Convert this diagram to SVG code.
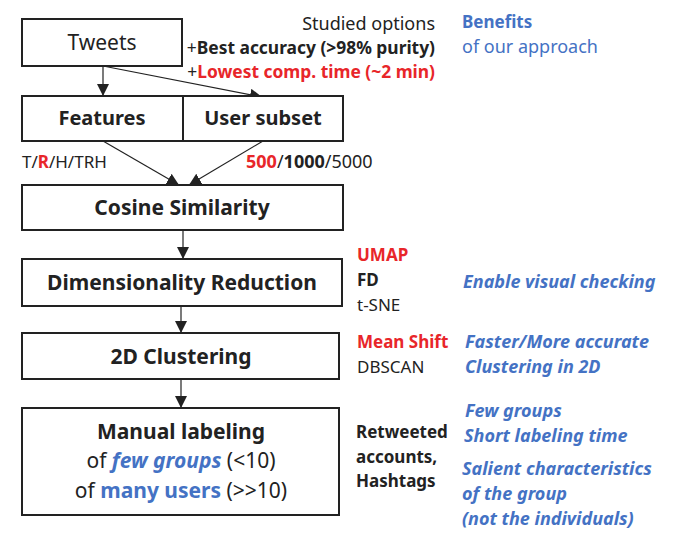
<svg xmlns="http://www.w3.org/2000/svg" width="676" height="546" viewBox="0 0 676 546">
<defs>
<marker id="ah" viewBox="0 0 12 12" refX="12" refY="6" markerWidth="12" markerHeight="12" markerUnits="userSpaceOnUse" orient="auto">
<path d="M0,0 L12,6 L0,12 z" fill="#222"/>
</marker>
<style>
.box{fill:#fff;stroke:#222;stroke-width:2}
.t{font-family:"Noto Sans","Open Sans",sans-serif;fill:#222}
.b{font-weight:bold}
.i{font-style:italic}
.red{fill:#e8262a}
.blue{fill:#4472c4}
.lbl{font-size:21px}
.side{font-size:17px}
.ben{font-size:18px}
.conn{stroke:#222;stroke-width:1.2;fill:none;marker-end:url(#ah)}
</style>
</defs>
<rect width="676" height="546" fill="#fff"/>

<g id="connectors">
<line class="conn" x1="103" y1="66" x2="103" y2="96"/>
<line class="conn" x1="103" y1="66" x2="262" y2="97"/>
<line class="conn" x1="103" y1="141" x2="179" y2="185"/>
<line class="conn" x1="263" y1="141" x2="189" y2="185"/>
<line class="conn" x1="183" y1="230" x2="183" y2="259"/>
<line class="conn" x1="181" y1="306" x2="181" y2="333"/>
<line class="conn" x1="181" y1="379" x2="181" y2="408"/>
</g>

<g id="tweets">
<rect class="box" x="22" y="19" width="160" height="47"/>
<text class="t" x="102" y="50" font-size="21" text-anchor="middle">Tweets</text>
</g>
<g id="features">
<rect class="box" x="22" y="96" width="161" height="45"/>
<text class="t b" x="102" y="125" font-size="20" text-anchor="middle">Features</text>
</g>
<g id="user-subset">
<rect class="box" x="183" y="96" width="160" height="45"/>
<text class="t b" x="263" y="125" font-size="20" text-anchor="middle">User subset</text>
</g>
<g id="cosine">
<rect class="box" x="22" y="185" width="321" height="45"/>
<text class="t b lbl" x="182" y="215" text-anchor="middle">Cosine Similarity</text>
</g>
<g id="dimred">
<rect class="box" x="22" y="259" width="320" height="47"/>
<text class="t b lbl" x="182" y="290" text-anchor="middle">Dimensionality Reduction</text>
</g>
<g id="clustering">
<rect class="box" x="22" y="333" width="317" height="46"/>
<text class="t b lbl" x="181" y="364" text-anchor="middle">2D Clustering</text>
</g>
<g id="labeling">
<rect class="box" x="22" y="408" width="317" height="107"/>
<text class="t b lbl" x="181" y="439" text-anchor="middle">Manual labeling</text>
<text class="t lbl" x="181" y="468" text-anchor="middle">of <tspan class="b i blue">few groups</tspan> (&lt;10)</text>
<text class="t lbl" x="181" y="498" text-anchor="middle">of <tspan class="b blue">many users</tspan> (&gt;&gt;10)</text>
</g>

<g id="annotations">
<text class="t ben" x="435" y="30" text-anchor="end">Studied options</text>
<text class="t" font-size="17.4" x="435" y="54" text-anchor="end">+<tspan class="b">Best accuracy (&gt;98% purity)</tspan></text>
<text class="t" font-size="17.4" x="435" y="78" text-anchor="end">+<tspan class="b red">Lowest comp. time (~2 min)</tspan></text>
<text class="t side b blue" x="462" y="28">Benefits</text>
<text class="t ben blue" x="462" y="53">of our approach</text>

<text class="t side" x="22" y="168">T/<tspan class="b red">R</tspan>/H/TRH</text>
<text class="t ben" x="246" y="168"><tspan class="b red">500</tspan>/<tspan class="b">1000</tspan>/5000</text>

<text class="t side b red" x="357" y="261">UMAP</text>
<text class="t side b" x="357" y="286">FD</text>
<text class="t side" x="357" y="311">t-SNE</text>
<text class="t ben b i blue" x="463" y="288">Enable visual checking</text>

<text class="t side b red" x="357" y="348">Mean Shift</text>
<text class="t side" x="357" y="373">DBSCAN</text>
<text class="t ben b i blue" x="465" y="348">Faster/More accurate</text>
<text class="t ben b i blue" x="465" y="373">Clustering in 2D</text>

<text class="t side b" x="356" y="438">Retweeted</text>
<text class="t side b" x="356" y="463">accounts,</text>
<text class="t side b" x="356" y="487">Hashtags</text>
<text class="t ben b i blue" x="465" y="417">Few groups</text>
<text class="t ben b i blue" x="464" y="442">Short labeling time</text>
<text class="t ben b i blue" x="462" y="475">Salient characteristics</text>
<text class="t ben b i blue" x="462" y="500">of the group</text>
<text class="t ben b i blue" x="462" y="525">(not the individuals)</text>
</g>
</svg>
